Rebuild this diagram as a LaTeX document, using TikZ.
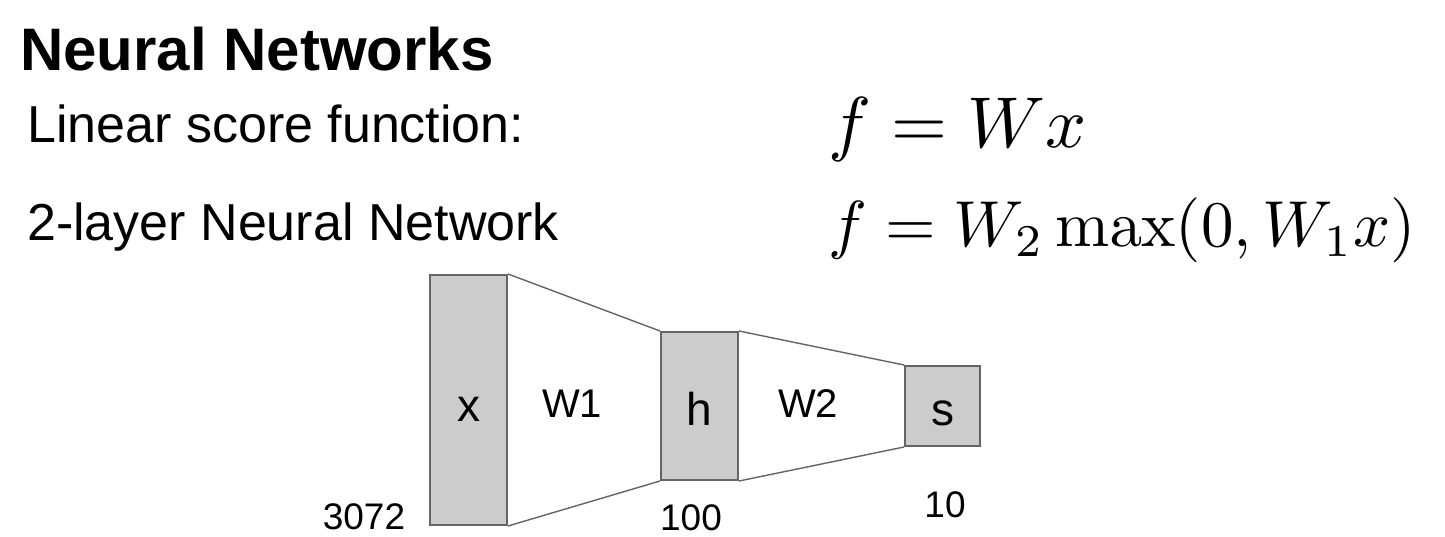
\documentclass[tikz,border=0pt]{standalone}
\usepackage{amsmath}
\usepackage{graphicx}
\usepackage[no-math]{fontspec}
\setmainfont{Liberation Sans}
\usepackage{xcolor}
\usetikzlibrary{positioning}

\definecolor{boxgray}{RGB}{204,204,204}
\definecolor{edgegray}{RGB}{100,100,100}

\begin{document}
\begin{tikzpicture}[
    x=1pt, y=-1pt,
    txt/.style={inner sep=0pt, anchor=base west, font=\fontsize{#1}{#1}\selectfont},
    formula/.style={inner sep=0pt, anchor=base west},
    layerbox/.style={draw=edgegray, line width=2pt, fill=boxgray, inner sep=0pt,
                     minimum width=77pt},
    layerletter/.style={inner sep=0pt, anchor=base, font=\fontsize{46}{46}\selectfont},
    weight/.style={draw=edgegray, line width=1.4pt},
    wlabel/.style={inner sep=0pt, anchor=base, font=\fontsize{40}{40}\selectfont},
    dimlabel/.style={inner sep=0pt, anchor=base, font=\fontsize{37}{37}\selectfont}
]
\useasboundingbox (0,0) rectangle (1445,537);

%% Heading and the two score functions
\node[txt=60, font=\bfseries\fontsize{60}{60}\selectfont] (title) at (20,71) {Neural Networks};
\node[txt=52] (linear) at (27,143) {Linear score function:};
\node[txt=52] (twolayer) at (27,241) {2-layer Neural Network};
\node[formula] (flin) at (828,148) {\scalebox{7.2}{$f = Wx$}};
\node[formula] (fnet) at (828,247) {\scalebox{6.5}{$f = W_2 \max(0, W_1 x)$}};

%% Layers
\node[layerbox, minimum height=250pt] (x) at (468.5,400) {};
\node[layerbox, minimum height=148pt] (h) at (699.5,406) {};
\node[layerbox, minimum width=75pt, minimum height=80pt] (s) at (942.5,406) {};
\node[layerletter] (xl) at (468.5,421) {x};
\node[layerletter] (hl) at (699.5,425) {h};
\node[layerletter] (sl) at (942.5,425) {s};

%% Weights between layers
\draw[weight] (x.north east) -- (h.north west);
\draw[weight] (x.south east) -- (h.south west);
\draw[weight] (h.north east) -- (s.north west);
\draw[weight] (h.south east) -- (s.south west);
\node[wlabel] (w1) at (572,417) {W1};
\node[wlabel] (w2) at (808,417) {W2};

%% Sizes
\node[dimlabel] (nx) at (364,529) {3072};
\node[dimlabel] (nh) at (691,530) {100};
\node[dimlabel] (ns) at (945,517) {10};

\end{tikzpicture}
\end{document}
